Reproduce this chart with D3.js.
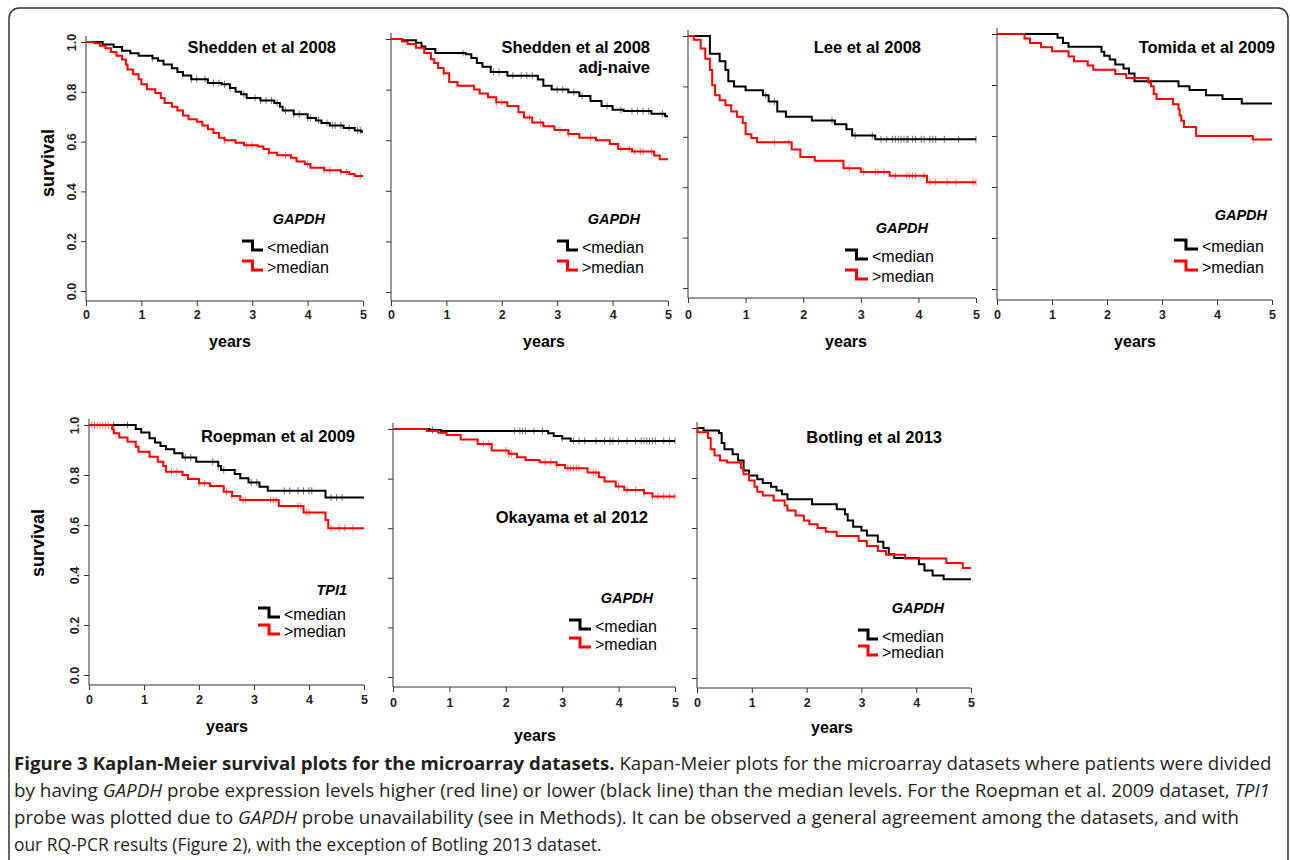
<!DOCTYPE html>
<html>
<head>
<meta charset="utf-8">
<script src="https://cdn.jsdelivr.net/npm/d3@7"></script>
<style>
  body { margin: 0; background: #fff; }
  svg { display: block; }
  text { font-family: Arial, "Liberation Sans", sans-serif; }
</style>
</head>
<body>
<svg id="fig" width="1290" height="860"></svg>
<script>
// ---- data (years, survival) ----
const xTicks = [0, 1, 2, 3, 4, 5];
const yTicks = [0, 0.2, 0.4, 0.6, 0.8, 1.0];
const legendLabels = ["<median", ">median"];

const titles = [
  ["Shedden et al 2008"],
  ["Shedden et al 2008", "adj-naive"],
  ["Lee et al 2008"],
  ["Tomida et al 2009"],
  ["Roepman et al 2009"],
  ["Okayama et al 2012"],
  ["Botling et al 2013"]
];
const genes = ["GAPDH", "GAPDH", "GAPDH", "GAPDH", "TPI1", "GAPDH", "GAPDH"];

// Shedden et al 2008
const sheddenLoT = [0.3, 0.5, 0.65, 0.8, 0.95, 1.2, 1.3, 1.4, 1.55, 1.65, 1.75, 1.9, 2.2, 2.45, 2.6, 2.7, 2.8, 2.9, 3.15, 3.4, 3.5, 3.55, 3.75, 4.0, 4.15, 4.25, 4.4, 4.65, 4.85, 4.97];
const sheddenLoS = [0.99, 0.98, 0.965, 0.955, 0.945, 0.935, 0.925, 0.91, 0.895, 0.88, 0.865, 0.85, 0.835, 0.83, 0.815, 0.80, 0.79, 0.775, 0.765, 0.755, 0.74, 0.725, 0.71, 0.695, 0.685, 0.675, 0.665, 0.655, 0.645, 0.64];
const sheddenLoC = [1.2, 1.9, 2.0, 2.15, 2.3, 2.4, 2.5, 2.6, 2.85, 3.05, 3.15, 3.25, 3.35, 3.45, 3.6, 3.75, 3.85, 4.0, 4.05, 4.2, 4.35, 4.45, 4.5, 4.6, 4.75, 4.9, 4.95];
const sheddenHiT = [0.15, 0.25, 0.35, 0.45, 0.55, 0.65, 0.72, 0.75, 0.85, 0.95, 1.0, 1.1, 1.25, 1.35, 1.42, 1.55, 1.65, 1.75, 1.85, 2.0, 2.1, 2.2, 2.3, 2.4, 2.5, 2.7, 2.85, 3.1, 3.2, 3.3, 3.45, 3.7, 3.8, 3.95, 4.05, 4.3, 4.6, 4.75, 4.85];
const sheddenHiS = [0.995, 0.985, 0.975, 0.96, 0.945, 0.93, 0.91, 0.89, 0.87, 0.85, 0.83, 0.81, 0.795, 0.775, 0.755, 0.74, 0.725, 0.705, 0.69, 0.68, 0.665, 0.65, 0.635, 0.615, 0.605, 0.595, 0.585, 0.58, 0.57, 0.555, 0.545, 0.535, 0.52, 0.51, 0.495, 0.485, 0.478, 0.47, 0.462];
const sheddenHiC = [2.5, 2.9, 3.0, 3.3, 3.6, 4.0, 4.3, 4.4, 4.6, 4.7, 4.95];

// Shedden et al 2008 adj-naive
const naiveLoT = [0.2, 0.45, 0.55, 0.62, 0.8, 1.35, 1.45, 1.55, 1.65, 1.8, 2.1, 2.65, 2.75, 2.9, 3.2, 3.4, 3.6, 3.8, 4.0, 4.2, 4.7, 4.95];
const naiveLoS = [0.995, 0.985, 0.97, 0.96, 0.945, 0.94, 0.925, 0.905, 0.89, 0.87, 0.855, 0.84, 0.815, 0.80, 0.79, 0.775, 0.755, 0.735, 0.72, 0.715, 0.705, 0.695];
const naiveLoC = [1.3, 1.85, 1.95, 2.2, 2.35, 2.45, 2.55, 3.0, 3.1, 3.3, 3.45, 3.9, 4.15, 4.35, 4.45, 4.55, 4.65, 4.9];
const naiveHiT = [0.2, 0.3, 0.45, 0.6, 0.72, 0.78, 0.85, 0.95, 1.05, 1.2, 1.5, 1.6, 1.75, 1.9, 2.1, 2.3, 2.4, 2.55, 2.75, 2.95, 3.2, 3.4, 3.7, 3.95, 4.1, 4.35, 4.75, 4.85];
const naiveHiS = [0.99, 0.98, 0.965, 0.945, 0.92, 0.905, 0.885, 0.865, 0.83, 0.815, 0.80, 0.785, 0.77, 0.75, 0.735, 0.71, 0.69, 0.67, 0.655, 0.64, 0.625, 0.61, 0.60, 0.585, 0.565, 0.555, 0.54, 0.525];
const naiveHiC = [0.95, 1.9, 2.0, 2.5, 2.7, 3.05, 3.2, 3.6, 4.15, 4.3, 4.4, 4.5, 4.55, 4.7];

// Lee et al 2008
const leeLoT = [0.38, 0.55, 0.65, 0.7, 0.8, 1.0, 1.3, 1.4, 1.55, 1.7, 2.15, 2.55, 2.75, 2.85, 3.25];
const leeLoS = [0.93, 0.90, 0.865, 0.82, 0.80, 0.785, 0.765, 0.74, 0.70, 0.68, 0.665, 0.65, 0.63, 0.605, 0.59];
const leeLoC = [1.35, 1.5, 2.5, 2.9, 3.2, 3.35, 3.45, 3.55, 3.6, 3.65, 3.7, 3.75, 3.8, 3.82, 3.9, 3.95, 4.05, 4.1, 4.2, 4.25, 4.3, 4.45, 4.7, 5.0];
const leeHiT = [0.1, 0.22, 0.3, 0.38, 0.42, 0.47, 0.55, 0.65, 0.75, 0.85, 0.95, 1.0, 1.1, 1.2, 1.8, 1.95, 2.2, 2.7, 3.0, 3.5, 4.15];
const leeHiS = [0.985, 0.95, 0.91, 0.865, 0.805, 0.765, 0.745, 0.725, 0.70, 0.68, 0.655, 0.61, 0.595, 0.578, 0.55, 0.52, 0.505, 0.475, 0.46, 0.445, 0.42];
const leeHiC = [1.5, 1.75, 2.8, 3.05, 3.25, 3.3, 3.4, 3.6, 3.8, 3.85, 3.9, 3.95, 4.1, 4.2, 4.3, 4.5, 4.65, 4.95, 5.0];

// Tomida et al 2009
const tomidaLoT = [1.1, 1.2, 1.3, 1.9, 1.95, 2.05, 2.15, 2.3, 2.4, 2.5, 3.3, 3.5, 3.8, 4.1, 4.45];
const tomidaLoS = [0.985, 0.965, 0.95, 0.93, 0.915, 0.90, 0.88, 0.865, 0.845, 0.815, 0.795, 0.78, 0.76, 0.745, 0.727];
const tomidaLoC = [];
const tomidaHiT = [0.5, 0.6, 0.8, 1.0, 1.3, 1.4, 1.65, 1.75, 2.15, 2.35, 2.75, 2.8, 2.85, 2.9, 3.2, 3.3, 3.32, 3.35, 3.4, 3.62, 4.65];
const tomidaHiS = [0.982, 0.965, 0.948, 0.932, 0.912, 0.893, 0.876, 0.86, 0.843, 0.827, 0.81, 0.795, 0.765, 0.745, 0.725, 0.705, 0.68, 0.66, 0.635, 0.60, 0.586];
const tomidaHiC = [4.66];

// Roepman et al 2009
const roepLoT = [0.85, 0.95, 1.1, 1.2, 1.3, 1.4, 1.55, 1.7, 1.95, 2.35, 2.4, 2.65, 2.75, 2.9, 3.1, 3.25, 4.3];
const roepLoS = [0.984, 0.97, 0.947, 0.93, 0.916, 0.903, 0.887, 0.87, 0.853, 0.836, 0.82, 0.804, 0.787, 0.77, 0.753, 0.737, 0.71];
const roepLoC = [0.45, 0.7, 1.75, 1.85, 2.25, 2.35, 2.45, 2.95, 3.05, 3.55, 3.65, 3.8, 3.9, 4.0, 4.05, 4.4, 4.5, 4.6];
const roepHiT = [0.42, 0.45, 0.55, 0.7, 0.85, 0.9, 1.1, 1.25, 1.35, 1.4, 1.7, 1.8, 2.0, 2.2, 2.45, 2.6, 2.75, 3.45, 3.9, 4.3, 4.35];
const roepHiS = [0.983, 0.967, 0.95, 0.933, 0.913, 0.893, 0.873, 0.853, 0.836, 0.813, 0.80, 0.784, 0.767, 0.756, 0.733, 0.716, 0.70, 0.676, 0.65, 0.62, 0.587];
const roepHiC = [0.05, 0.1, 0.15, 0.2, 0.25, 0.3, 0.35, 1.5, 1.6, 2.0, 2.1, 2.5, 2.6, 2.8, 2.85, 3.3, 3.35, 3.4, 3.8, 3.85, 3.95, 4.0, 4.4, 4.55, 4.65, 4.8];

// Okayama et al 2012
const okaLoT = [0.65, 0.85, 2.75, 2.85, 3.0, 3.15];
const okaLoS = [0.996, 0.992, 0.983, 0.972, 0.962, 0.952];
const okaLoC = [0.7, 2.15, 2.25, 2.3, 2.35, 2.5, 2.65, 3.0, 3.2, 3.3, 3.4, 3.6, 3.75, 3.85, 3.9, 4.0, 4.15, 4.3, 4.4, 4.45, 4.5, 4.55, 4.6, 4.65, 4.8, 4.9, 5.0];
const okaHiT = [0.6, 0.8, 0.95, 1.2, 1.5, 1.75, 2.05, 2.2, 2.35, 2.6, 2.9, 3.05, 3.45, 3.65, 3.75, 3.95, 4.1, 4.45, 4.6];
const okaHiS = [0.992, 0.985, 0.976, 0.958, 0.94, 0.913, 0.90, 0.886, 0.875, 0.866, 0.855, 0.842, 0.825, 0.805, 0.788, 0.768, 0.754, 0.741, 0.728];
const okaHiC = [1.6, 1.7, 2.0, 2.05, 2.1, 2.7, 2.8, 2.9, 3.1, 3.15, 3.2, 3.25, 3.3, 3.55, 3.6, 4.0, 4.15, 4.3, 4.45, 4.6, 4.7, 4.8, 4.9, 5.0];

// Botling et al 2013
const botLoT = [0.12, 0.4, 0.45, 0.5, 0.65, 0.75, 0.85, 0.95, 1.1, 1.2, 1.35, 1.45, 1.55, 1.65, 2.1, 2.55, 2.7, 2.75, 2.85, 3.0, 3.1, 3.3, 3.4, 3.5, 3.6, 4.05, 4.15, 4.3, 4.5];
const botLoS = [0.99, 0.98, 0.94, 0.915, 0.895, 0.87, 0.83, 0.81, 0.795, 0.78, 0.765, 0.75, 0.735, 0.715, 0.695, 0.675, 0.655, 0.63, 0.605, 0.59, 0.57, 0.545, 0.52, 0.495, 0.48, 0.455, 0.43, 0.41, 0.395];
const botLoC = [];
const botHiT = [0.01, 0.2, 0.25, 0.32, 0.42, 0.55, 0.8, 0.85, 0.95, 1.05, 1.1, 1.2, 1.4, 1.6, 1.65, 1.8, 1.95, 2.05, 2.2, 2.35, 2.55, 2.95, 3.1, 3.3, 3.45, 3.8, 4.55, 4.85];
const botHiS = [0.983, 0.96, 0.915, 0.89, 0.87, 0.862, 0.84, 0.815, 0.79, 0.765, 0.745, 0.73, 0.71, 0.69, 0.67, 0.65, 0.63, 0.615, 0.60, 0.585, 0.568, 0.548, 0.528, 0.508, 0.493, 0.478, 0.46, 0.44];
const botHiC = [];

const loCurves = [[sheddenLoT, sheddenLoS, sheddenLoC], [naiveLoT, naiveLoS, naiveLoC], [leeLoT, leeLoS, leeLoC], [tomidaLoT, tomidaLoS, tomidaLoC], [roepLoT, roepLoS, roepLoC], [okaLoT, okaLoS, okaLoC], [botLoT, botLoS, botLoC]];
const hiCurves = [[sheddenHiT, sheddenHiS, sheddenHiC], [naiveHiT, naiveHiS, naiveHiC], [leeHiT, leeHiS, leeHiC], [tomidaHiT, tomidaHiS, tomidaHiC], [roepHiT, roepHiS, roepHiC], [okaHiT, okaHiS, okaHiC], [botHiT, botHiS, botHiC]];

const captionLines = [
  [["Figure 3 Kaplan-Meier survival plots for the microarray datasets.", "b"], [" Kapan-Meier plots for the microarray datasets where patients were divided", "n"]],
  [["by having ", "n"], ["GAPDH", "i"], [" probe expression levels higher (red line) or lower (black line) than the median levels. For the Roepman et al. 2009 dataset, ", "n"], ["TPI1", "i"]],
  [["probe was plotted due to ", "n"], ["GAPDH", "i"], [" probe unavailability (see in Methods). It can be observed a general agreement among the datasets, and with", "n"]],
  [["our RQ-PCR results (Figure 2), with the exception of Botling 2013 dataset.", "n"]]
];

// ---- layout (pixels) for each small plot ----
const frames = [
  {x0: 86, x5: 363, y1: 42, y0: 291, ax: 301, tx: 336, ty: 53, gx: 325, gy: 224, lx: 242, lt: 267, b1: 253, b2: 273, labels: true, survX: 48, survY: 163, yrX: 230, yrY: 347, tkY: 319},
  {x0: 391, x5: 668, y1: 39, y0: 292, ax: 301, tx: 650, ty: 53, gx: 640, gy: 224, lx: 557, lt: 582, b1: 253, b2: 273, labels: false, yrX: 544, yrY: 347, tkY: 319},
  {x0: 688, x5: 976, y1: 36, y0: 288, ax: 298, tx: 921, ty: 53, gx: 928, gy: 233, lx: 845, lt: 872, b1: 262, b2: 282, labels: false, yrX: 846, yrY: 347, tkY: 319},
  {x0: 997, x5: 1272, y1: 34, y0: 289, ax: 300, tx: 1275, ty: 53, gx: 1267, gy: 220, lx: 1174, lt: 1202, b1: 252, b2: 273, labels: false, yrX: 1135, yrY: 347, tkY: 319},
  {x0: 89, x5: 364, y1: 425, y0: 675, ax: 685, tx: 355, ty: 442, gx: 347, gy: 595, lx: 258, lt: 284, b1: 620, b2: 637, labels: true, survX: 38, survY: 543, yrX: 227, yrY: 732, tkY: 704},
  {x0: 393, x5: 675, y1: 429, y0: 677, ax: 687, tx: 648, ty: 523, gx: 653, gy: 603, lx: 569, lt: 595, b1: 632, b2: 650, labels: false, yrX: 535, yrY: 741, tkY: 707},
  {x0: 697, x5: 971, y1: 428, y0: 678, ax: 688, tx: 942, ty: 443, gx: 944, gy: 613, lx: 858, lt: 882, b1: 642, b2: 658, labels: false, yrX: 832, yrY: 733, tkY: 707}
];

const svg = d3.select("#fig");

// outer frame with rounded top corners
svg.append("rect")
  .attr("x", 9).attr("y", 8).attr("width", 1279).attr("height", 920)
  .attr("rx", 10).attr("fill", "none").attr("stroke", "#333").attr("stroke-width", 1.5);

const axisCol = "#333";

function survAt(times, surv, t) {
  const i = d3.bisectRight(times, t);
  return i ? surv[i - 1] : 1;
}

frames.forEach((f, i) => {
  const x = d3.scaleLinear().domain([0, 5]).range([f.x0, f.x5]);
  const y = d3.scaleLinear().domain([0, 1]).range([f.y0, f.y1]);
  const g = svg.append("g");

  // axis lines (L shape)
  g.append("line").attr("x1", f.x0).attr("x2", f.x0).attr("y1", y(1) - 6).attr("y2", f.ax)
    .attr("stroke", axisCol).attr("stroke-width", 1);
  g.append("line").attr("x1", x(0)).attr("x2", x(5)).attr("y1", f.ax).attr("y2", f.ax)
    .attr("stroke", axisCol).attr("stroke-width", 1);

  // y ticks
  const ya = g.append("g").attr("transform", `translate(${f.x0},0)`)
    .call(d3.axisLeft(y).tickValues(yTicks).tickSize(5).tickSizeOuter(0)
      .tickFormat(f.labels ? d3.format(".1f") : ""));
  ya.select(".domain").remove();
  ya.selectAll("line").attr("stroke", axisCol);
  ya.selectAll("text")
    .attr("x", 0).attr("y", -10).attr("dy", 0)
    .attr("transform", "rotate(-90)")
    .attr("text-anchor", "middle")
    .style("font-family", "Arial, 'Liberation Sans', sans-serif")
    .style("font-size", "12.5px").style("font-weight", "bold").attr("fill", "#222");

  // x ticks
  const xa = g.append("g").attr("transform", `translate(0,${f.ax})`)
    .call(d3.axisBottom(x).tickValues(xTicks).tickSize(5).tickSizeOuter(0).tickFormat(d3.format("d")));
  xa.select(".domain").remove();
  xa.selectAll("line").attr("stroke", axisCol);
  xa.selectAll("text")
    .attr("y", f.tkY - f.ax).attr("dy", 0)
    .style("font-family", "Arial, 'Liberation Sans', sans-serif")
    .style("font-size", "12.5px").style("font-weight", "bold").attr("fill", "#222");

  // axis titles
  g.append("text").attr("x", f.yrX).attr("y", f.yrY).attr("text-anchor", "middle")
    .attr("font-size", 16).attr("font-weight", "bold").text("years");
  if (f.labels) {
    g.append("text").attr("transform", `translate(${f.survX + 6},${f.survY}) rotate(-90)`)
      .attr("text-anchor", "middle").attr("font-size", 18).attr("font-weight", "bold").text("survival");
  }

  // KM curves
  const line = d3.line().x(d => x(d[0])).y(d => y(d[1])).curve(d3.curveStepAfter);
  [[loCurves[i], "#000"], [hiCurves[i], "#ff0000"]].forEach(([c, col]) => {
    const [T, S, C] = c;
    const pts = [[0, 1]].concat(T.map((t, k) => [t, S[k]]));
    pts.push([5, S[S.length - 1]]);
    g.append("path").attr("d", line(pts)).attr("fill", "none")
      .attr("stroke", col).attr("stroke-width", 2);
    g.selectAll(null).data(C).enter().append("line")
      .attr("x1", d => x(d)).attr("x2", d => x(d))
      .attr("y1", d => y(survAt(T, S, d)) - 3.5).attr("y2", d => y(survAt(T, S, d)) + 3.5)
      .attr("stroke", col).attr("stroke-width", 1).attr("opacity", 0.55);
  });

  // title
  titles[i].forEach((s, k) => {
    g.append("text").attr("x", f.tx).attr("y", f.ty + k * 20).attr("text-anchor", "end")
      .attr("font-size", 16.5).attr("font-weight", "bold").text(s);
  });

  // legend
  g.append("text").attr("x", f.gx).attr("y", f.gy).attr("text-anchor", "end")
    .attr("font-size", 14.5).attr("font-weight", "bold").attr("font-style", "italic").text(genes[i]);
  const w = f.lt - f.lx - 4;
  const step = d3.line().curve(d3.curveStep);
  [[f.b1, "#000"], [f.b2, "#ff0000"]].forEach(([b, col], k) => {
    g.append("path").attr("d", step([[f.lx, b - 12], [f.lx + w, b - 3]]))
      .attr("fill", "none").attr("stroke", col).attr("stroke-width", 3);
    g.append("text").attr("x", f.lt).attr("y", b).attr("font-size", 16).text(legendLabels[k]);
  });
});

// caption
const capWidths = [1258, 1257, 1226, 588];
const capBase = [770, 797, 824, 851];
captionLines.forEach((segs, i) => {
  const t = svg.append("text").attr("x", 0).attr("y", 0)
    .style("font-family", "'Open Sans', 'Noto Sans', sans-serif").style("font-size", "18.5px")
    .attr("fill", "#231f20");
  segs.forEach(([s, st]) => {
    t.append("tspan").text(s)
      .style("font-weight", st === "b" ? "bold" : "normal")
      .style("font-style", st === "i" ? "italic" : "normal");
  });
  const k = capWidths[i] / t.node().getComputedTextLength();
  t.attr("transform", `translate(14,${capBase[i]}) scale(${k},1)`);
});
</script>
</body>
</html>
